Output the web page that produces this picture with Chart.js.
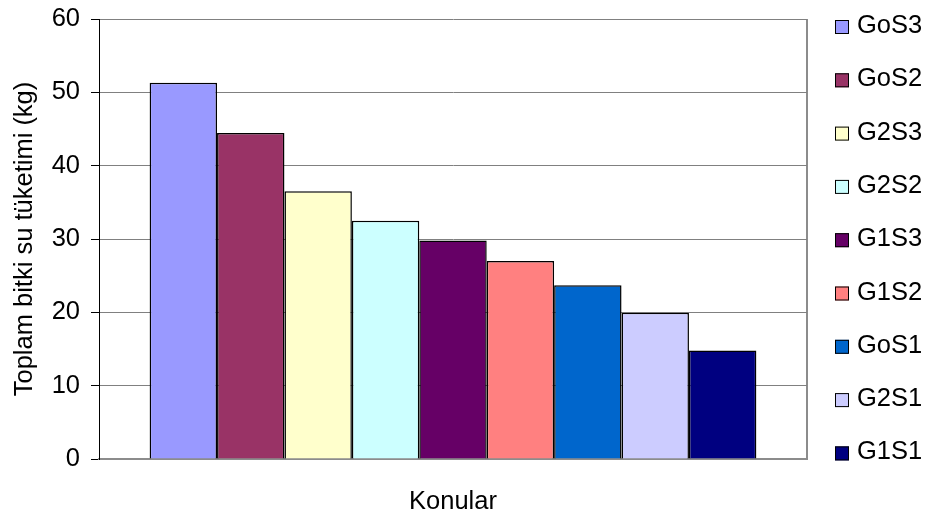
<!DOCTYPE html>
<html>
<head>
<meta charset="utf-8">
<script src="https://cdn.jsdelivr.net/npm/chart.js@4"></script>
<style>
  html, body { margin: 0; padding: 0; background: #fff; }
  #wrap { width: 927px; height: 517px; position: relative; }
</style>
</head>
<body>
<div id="wrap"><canvas id="chart"></canvas></div>
<script>
// Category and series
const categories = ['Konular'];
const seriesNames = ['GoS3', 'GoS2', 'G2S3', 'G2S2', 'G1S3', 'G1S2', 'GoS1', 'G2S1', 'G1S1'];
const seriesValues = [51.3, 44.45, 36.5, 32.5, 29.8, 27.0, 23.7, 19.95, 14.8];
const seriesColors = ['#9999FF', '#993366', '#FFFFCC', '#CCFFFF', '#660066', '#FF8080', '#0066CC', '#CCCCFF', '#000080'];

// Value axis range
const yMin = 0;
const yMax = 60;
const yStep = 10;

const yTitle = 'Toplam bitki su tüketimi (kg)';
const FONT = "'Liberation Sans', Arial, sans-serif";
const FONT_SIZE = 25.5;

const datasets = seriesNames.map((name, i) => ({
  label: name,
  data: [seriesValues[i]],
  backgroundColor: seriesColors[i],
  borderColor: '#000000',
  borderWidth: 1.5,
  barPercentage: 1.0,
  categoryPercentage: 0.857
}));

// Legend drawn at the right of the plot, one row per series
const sideLegend = {
  id: 'sideLegend',
  afterDraw(chart) {
    const ctx = chart.ctx;
    const ds = chart.data.datasets;
    const boxX = 835, box = 14, textX = 857;
    const firstY = 26, rowGap = 53.3;
    ctx.save();
    ctx.font = FONT_SIZE + 'px ' + FONT;
    ctx.textBaseline = 'middle';
    ctx.textAlign = 'left';
    ds.forEach((d, i) => {
      const cy = firstY + i * rowGap;
      ctx.fillStyle = d.backgroundColor;
      ctx.fillRect(boxX, cy - box / 2 + 1, box, box);
      ctx.strokeStyle = '#000';
      ctx.lineWidth = 1;
      ctx.strokeRect(boxX + 0.5, cy - box / 2 + 1.5, box - 1, box - 1);
      ctx.fillStyle = '#000';
      ctx.fillText(d.label, textX, cy);
    });
    ctx.restore();
  }
};

new Chart(document.getElementById('chart'), {
  type: 'bar',
  data: { labels: categories, datasets: datasets },
  plugins: [sideLegend],
  options: {
    responsive: true,
    maintainAspectRatio: false,
    animation: false,
    layout: { padding: { top: 19, right: 120, bottom: 0, left: 0 } },
    plugins: {
      legend: { display: false },
      tooltip: { enabled: false },
      title: { display: false }
    },
    scales: {
      x: {
        offset: true,
        grid: {
          display: true,
          offset: true,
          drawTicks: false,
          lineWidth: 2,
          color: (c) => (c.index === 0 ? 'rgba(0,0,0,0)' : '#8c8c8c')
        },
        border: { display: true, color: '#8c8c8c', width: 2 },
        ticks: {
          color: '#000',
          padding: 28,
          font: { family: FONT, size: FONT_SIZE }
        },
        afterFit(scale) { scale.height = 58; }
      },
      y: {
        min: yMin,
        max: yMax,
        ticks: {
          stepSize: yStep,
          color: '#000',
          padding: 11,
          font: { family: FONT, size: FONT_SIZE, lineHeight: 0.6 }
        },
        grid: {
          color: '#808080',
          lineWidth: 1,
          tickLength: 8,
          tickColor: '#000'
        },
        border: { display: true, color: '#000', width: 1 },
        title: {
          display: true,
          text: yTitle,
          color: '#000',
          padding: { top: 10, bottom: 0 },
          font: { family: FONT, size: FONT_SIZE }
        },
        afterFit(scale) { scale.width = 99; }
      }
    }
  }
});
</script>
</body>
</html>
